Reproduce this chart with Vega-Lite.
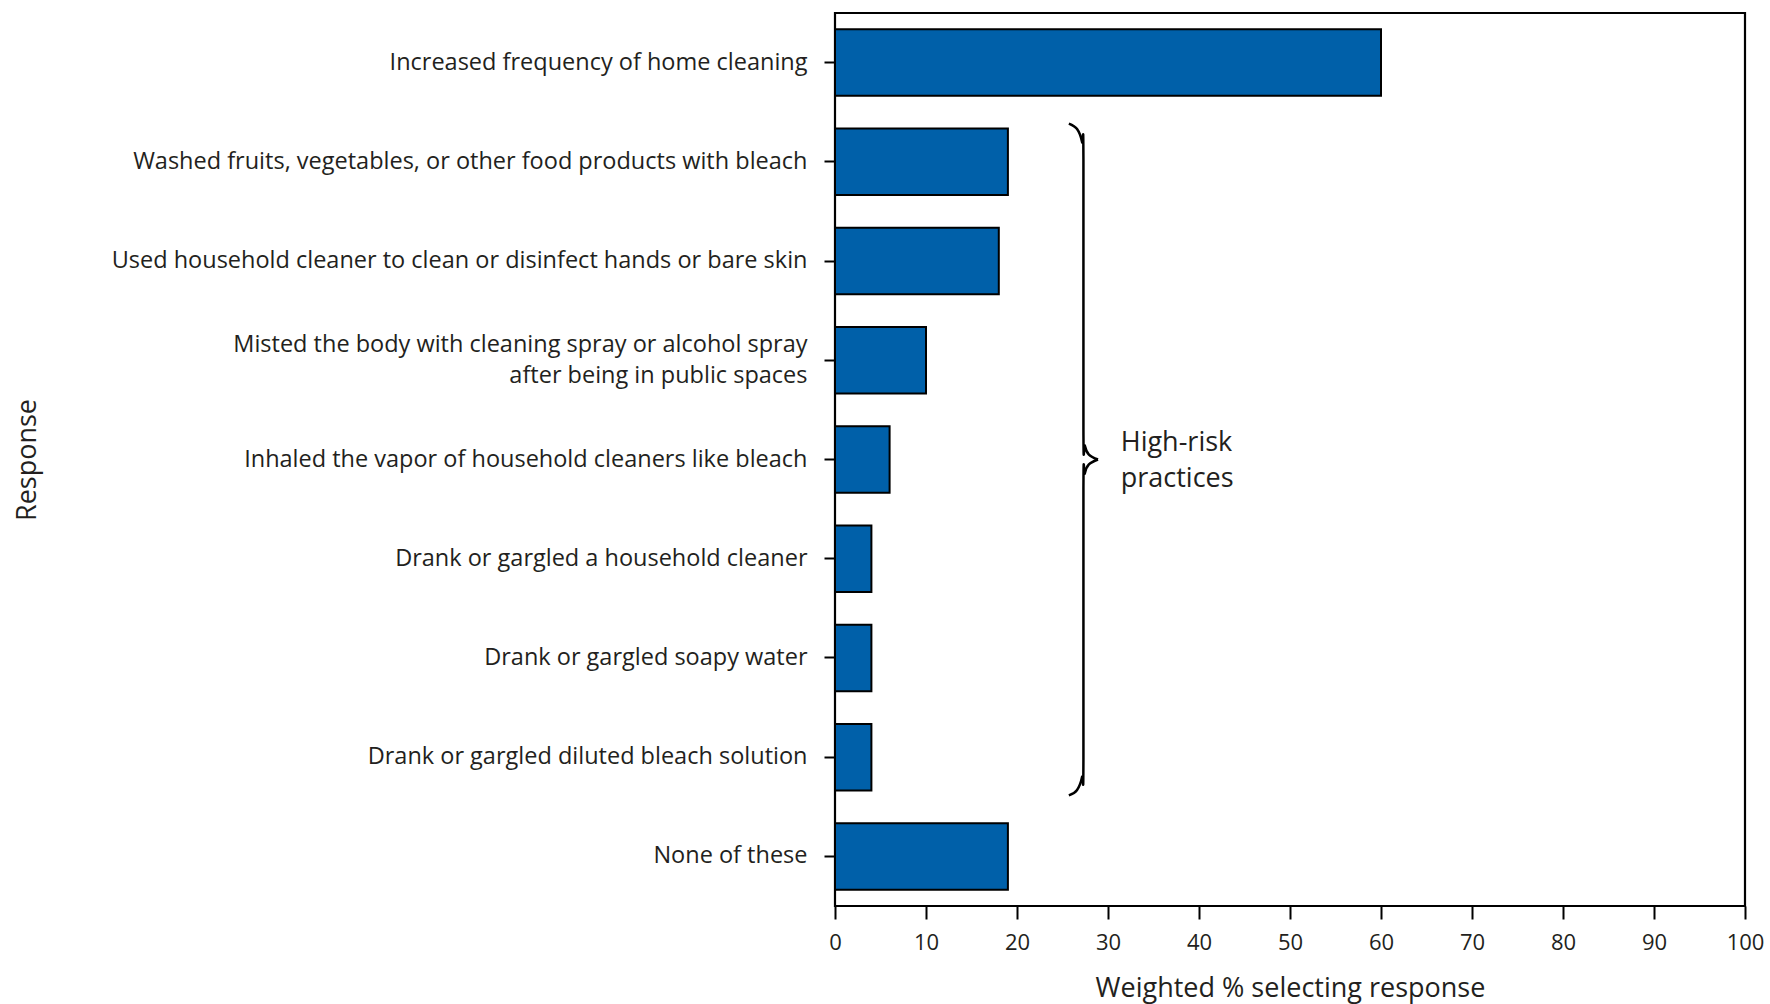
{
  "$schema": "https://vega.github.io/schema/vega-lite/v6.json",
  "width": 910,
  "height": 893,
  "autosize": {"type": "none"},
  "padding": {"left": 835, "top": 13, "right": 25, "bottom": 98},
  "background": "white",
  "config": {
    "font": "Open Sans",
    "view": {"stroke": "black", "strokeWidth": 2.2}
  },
  "datasets": {
    "bars": [
      {"response": "Increased frequency of home cleaning", "pct": 60},
      {"response": "Washed fruits, vegetables, or other food products with bleach", "pct": 19},
      {"response": "Used household cleaner to clean or disinfect hands or bare skin", "pct": 18},
      {"response": "Misted the body with cleaning spray or alcohol spray|after being in public spaces", "pct": 10},
      {"response": "Inhaled the vapor of household cleaners like bleach", "pct": 6},
      {"response": "Drank or gargled a household cleaner", "pct": 4},
      {"response": "Drank or gargled soapy water", "pct": 4},
      {"response": "Drank or gargled diluted bleach solution", "pct": 4},
      {"response": "None of these", "pct": 19}
    ],
    "brace": [
      {"half": "a", "i": 1, "x": 25.7, "y": 1.115},
      {"half": "a", "i": 2, "x": 26.6, "y": 1.17},
      {"half": "a", "i": 3, "x": 27.15, "y": 1.3},
      {"half": "a", "i": 4, "x": 27.3, "y": 1.48},
      {"half": "a", "i": 5, "x": 27.3, "y": 4.2},
      {"half": "a", "i": 6, "x": 27.45, "y": 4.36},
      {"half": "a", "i": 7, "x": 27.9, "y": 4.45},
      {"half": "a", "i": 8, "x": 28.9, "y": 4.5},
      {"half": "b", "i": 1, "x": 28.9, "y": 4.5},
      {"half": "b", "i": 2, "x": 27.9, "y": 4.55},
      {"half": "b", "i": 3, "x": 27.45, "y": 4.64},
      {"half": "b", "i": 4, "x": 27.3, "y": 4.8},
      {"half": "b", "i": 5, "x": 27.3, "y": 7.52},
      {"half": "b", "i": 6, "x": 27.15, "y": 7.7},
      {"half": "b", "i": 7, "x": 26.6, "y": 7.83},
      {"half": "b", "i": 8, "x": 25.7, "y": 7.885}
    ],
    "note": [
      {"label": "High-risk\npractices", "x": 31.4, "y": 4.33}
    ]
  },
  "layer": [
    {
      "data": {"name": "bars"},
      "mark": {"type": "bar", "fill": "#0060a9", "stroke": "black", "strokeWidth": 2},
      "encoding": {
        "y": {
          "field": "response",
          "type": "nominal",
          "sort": null,
          "scale": {"paddingInner": 0.33, "paddingOuter": 0.165},
          "axis": {
            "title": "Response",
            "titleFont": "Open Sans",
            "titleFontSize": 27,
            "titleFontWeight": "normal",
            "titleColor": "#231f20",
            "titleX": -808,
            "titleY": 446.5,
            "titleAngle": -90,
            "titleAlign": "center",
            "titleBaseline": "middle",
            "labelFont": "Open Sans",
            "labelFontSize": 23.5,
            "labelColor": "#231f20",
            "labelLimit": 0,
            "labelPadding": 17,
            "labelLineHeight": 31,
            "labelExpr": "split(datum.label, '|')",
            "labelOffset": {"condition": {"test": "indexof(datum.value, '|') >= 0", "value": -15.5}, "value": 0},
            "tickSize": 11,
            "tickColor": "black",
            "tickWidth": 2,
            "domain": false,
            "grid": false
          }
        },
        "x": {
          "field": "pct",
          "type": "quantitative",
          "scale": {"domain": [0, 100], "nice": false},
          "axis": {
            "title": "Weighted % selecting response",
            "titleFont": "Open Sans",
            "titleFontSize": 27,
            "titleFontWeight": "normal",
            "titleColor": "#231f20",
            "titleY": 82,
            "titleBaseline": "middle",
            "values": [0, 10, 20, 30, 40, 50, 60, 70, 80, 90, 100],
            "labelFont": "Open Sans",
            "labelFontSize": 22,
            "labelColor": "#231f20",
            "labelPadding": 13,
            "labelFlush": false,
            "tickSize": 13,
            "tickColor": "black",
            "tickWidth": 2,
            "domain": false,
            "grid": false
          }
        }
      }
    },
    {
      "data": {"name": "brace"},
      "mark": {"type": "line", "stroke": "black", "strokeWidth": 2.5, "interpolate": "cardinal"},
      "encoding": {
        "x": {"field": "x", "type": "quantitative"},
        "y": {"field": "y", "type": "quantitative", "scale": {"domain": [0, 9], "reverse": true, "nice": false, "zero": false}, "axis": null},
        "detail": {"field": "half"},
        "order": {"field": "i"}
      }
    },
    {
      "data": {"name": "note"},
      "mark": {"type": "text", "align": "left", "baseline": "middle", "font": "Open Sans", "fontSize": 27, "lineHeight": 36, "lineBreak": "\n", "color": "#231f20"},
      "encoding": {
        "x": {"field": "x", "type": "quantitative"},
        "y": {"field": "y", "type": "quantitative", "scale": {"domain": [0, 9], "reverse": true, "nice": false, "zero": false}, "axis": null},
        "text": {"field": "label"}
      }
    }
  ],
  "resolve": {"scale": {"y": "independent"}}
}
